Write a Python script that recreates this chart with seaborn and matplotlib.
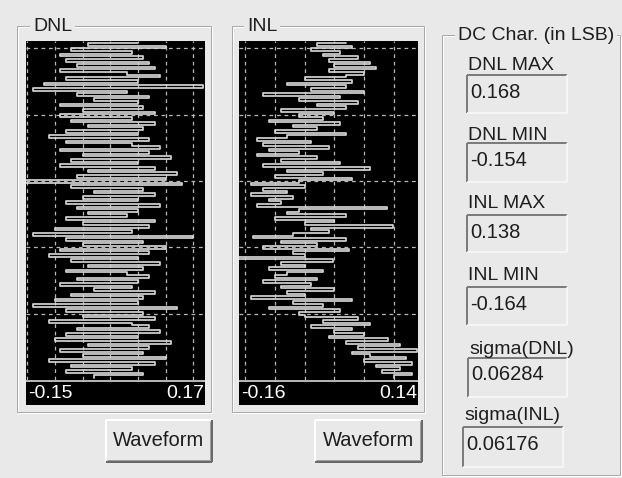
import matplotlib
matplotlib.use("Agg")
import matplotlib.pyplot as plt
import seaborn as sns
from matplotlib.patches import Rectangle

# ---------------- data ----------------
codes = list(range(128))
dnl = [0.05, -0.04, 0.10, -0.07, 0.04, -0.09, 0.06, -0.08, 0.07, -0.06,
       0.08, -0.09, 0.03, 0.09, -0.08, 0.05, -0.12, 0.168, -0.14, 0.03,
       -0.06, 0.07, -0.03, 0.05, -0.09, 0.06, -0.05, 0.08, -0.09, 0.04,
       -0.07, 0.08, -0.04, 0.06, -0.08, 0.05, -0.11, 0.07, -0.08, 0.04,
       0.09, -0.09, 0.07, -0.05, 0.11, -0.07, 0.05, -0.09, 0.08, -0.04,
       0.12, -0.06, 0.10, -0.154, 0.13, -0.07, 0.06, -0.03, 0.08, -0.05,
       0.05, -0.08, 0.09, -0.06, 0.05, -0.04, 0.03, -0.08, 0.08, -0.05,
       0.07, -0.10, 0.04, -0.14, 0.15, -0.08, 0.06, -0.05, 0.10, -0.09,
       0.07, -0.11, 0.05, -0.07, 0.09, -0.04, 0.06, -0.08, 0.03, 0.07,
       -0.06, 0.05, -0.09, 0.04, -0.03, 0.08, -0.07, 0.06, -0.10, 0.05,
       -0.14, 0.12, -0.08, 0.06, -0.05, 0.08, -0.11, 0.04, 0.07, -0.06,
       0.09, -0.08, 0.05, -0.10, 0.11, -0.04, 0.07, -0.09, 0.06, -0.05,
       0.10, -0.11, 0.08, -0.07, 0.04, -0.08, 0.06, -0.03]
inl = [0.02, -0.03, 0.03, -0.04, 0.01, -0.02, 0.04, -0.01,
       0.06, 0.00, 0.07, -0.01, 0.05, 0.02,
       -0.05, 0.03, -0.08, 0.02, -0.04, 0.05, -0.12, 0.01, -0.06, 0.04, -0.03, 0.02,
       -0.09, 0.00, -0.06, -0.02, -0.11, 0.01, -0.07, -0.03, -0.10, 0.02, -0.08,
       -0.13, -0.04, -0.12, -0.01, -0.11, -0.06, -0.13, -0.03,
       -0.09, 0.01, -0.12, 0.06, -0.08, -0.02, -0.10, 0.03, -0.06,
       -0.14, -0.05, -0.12, -0.08, -0.14, -0.07, -0.11, -0.09, -0.13, 0.088, -0.06,
       -0.08, 0.02, -0.10, 0.00, -0.05, 0.098, -0.04, -0.01, -0.07,
       -0.136, 0.02, -0.09, -0.03, -0.12, 0.025, -0.07, -0.05,
       -0.164, -0.003, -0.09, -0.05, -0.11, -0.02, -0.08,
       -0.10, -0.03, -0.12, -0.04, -0.09, 0.00, -0.08, -0.05,
       -0.14, 0.03, -0.07, -0.02, -0.11, 0.01, -0.06,
       -0.05, 0.04, -0.02, 0.06, -0.04, 0.03, 0.00, 0.05,
       -0.01, 0.09, 0.02, 0.11, 0.04, 0.138, 0.03,
       0.06, 0.12, 0.05, 0.13, 0.07, 0.11, 0.08, 0.13, 0.10]
dnl_range = [-0.152, 0.171]
inl_range = [-0.16, 0.14]
dnl_ticks = ["-0.15", "0.17"]
inl_ticks = ["-0.16", "0.14"]
grid_vals = [-0.15, -0.10, -0.05, 0.0, 0.05, 0.10, 0.15]
stat_labels = ["DNL MAX", "DNL MIN", "INL MAX", "INL MIN", "sigma(DNL)", "sigma(INL)"]
stat_values = ["0.168", "-0.154", "0.138", "-0.164", "0.06284", "0.06176"]

# ---------------- style ----------------
W, H = 622, 478
BG = "#e9e9e9"
TXT = "#1e1e1e"
sns.set_theme(style="white")
plt.rcParams["font.family"] = ["Liberation Sans", "DejaVu Sans"]

fig = plt.figure(figsize=(W / 100, H / 100), dpi=100, facecolor=BG)
ov = fig.add_axes([0, 0, 1, 1], zorder=0)
ov.set_xlim(0, W)
ov.set_ylim(H, 0)
ov.axis("off")
PX = 0.72  # one pixel in points


def frac(l, t, r, b):
    return [l / W, 1 - b / H, (r - l) / W, (b - t) / H]


def seg(x0, y0, x1, y1, c, w=1):
    ov.plot([x0, x1], [y0, y1], color=c, lw=w * PX, solid_capstyle="butt")


def group_box(l, t, r, b, title, tx):
    for off, c in ((1, "#ffffff"), (0, "#a8a8a8")):
        seg(l + off, t + off, r + off, t + off, c)
        seg(l + off, b + off, r + off, b + off, c)
        seg(l + off, t + off, l + off, b + off, c)
        seg(r + off, t + off, r + off, b + off, c)
    ov.text(tx, t, title, ha="left", va="center", fontsize=14, color=TXT,
            bbox=dict(boxstyle="square,pad=0.15", fc=BG, ec="none"))


def button(l, t, r, b, label):
    ov.add_patch(Rectangle((l, t), r - l, b - t, fc=BG, ec="none"))
    seg(l, t, r, t, "#ffffff", 2)
    seg(l, t, l, b, "#ffffff", 2)
    seg(l, b, r, b, "#6a6a6a", 2)
    seg(r, t, r, b, "#6a6a6a", 2)
    seg(l + 1, b - 2, r - 2, b - 2, "#a0a0a0")
    seg(r - 2, t + 1, r - 2, b - 2, "#a0a0a0")
    ov.text((l + r) / 2, (t + b) / 2, label, ha="center", va="center",
            fontsize=14.5, color=TXT)


def edit_box(l, t, r, b, value):
    seg(l, t, r, t, "#7c7c7c", 2)
    seg(l, t, l, b, "#7c7c7c", 2)
    seg(l, b, r, b, "#fafafa", 1.5)
    seg(r, t, r, b, "#fafafa", 1.5)
    ov.text(l + 3, t + 17, value, ha="left", va="center", fontsize=14.5, color=TXT)


def plot_panel(vals, rng, ticks, l, t, r, b):
    ax = fig.add_axes(frac(l, t, r, b), zorder=2)
    ax.set_facecolor("black")
    for v in grid_vals:
        ax.axvline(v, color="#b8b8b8", lw=0.9, ls=(0, (3, 3)), zorder=0.5)
    for f in (0.195, 0.391, 0.587, 0.783, 0.979):
        ax.plot([0, 1], [f, f], transform=ax.transAxes, color="#b8b8b8",
                lw=0.9, ls=(0, (3, 3)), zorder=0.5)
    sns.lineplot(x=vals, y=codes, sort=False, estimator=None, color="#d4d4d4",
                 lw=1.25, drawstyle="steps-post", ax=ax, zorder=2)
    ax.set_xlim(*rng)
    ax.set_ylim(127.8, -0.8)
    ax.set_xticks([])
    ax.set_yticks([])
    ax.set_xlabel("")
    ax.set_ylabel("")
    for s in ax.spines.values():
        s.set_visible(False)
    # value strip under the plot
    ov.add_patch(Rectangle((l, b), r - l, 25, fc="black", ec="none"))
    seg(l, b + 0.5, r, b + 0.5, "#f0f0f0", 1.5)
    ov.text(l + 2, b + 14, ticks[0], ha="left", va="center", fontsize=14, color="white")
    ov.text(r - 1, b + 14, ticks[1], ha="right", va="center", fontsize=14, color="white")


# ---------------- DNL panel ----------------
group_box(17, 26, 211, 412, "DNL", 33)
plot_panel(dnl, dnl_range, dnl_ticks, 26, 41, 205, 380)
button(106, 420, 212, 462, "Waveform")

# ---------------- INL panel ----------------
group_box(232, 26, 424, 412, "INL", 247)
plot_panel(inl, inl_range, inl_ticks, 239, 41, 418, 380)
button(315, 420, 422, 462, "Waveform")

# ---------------- DC characteristics ----------------
group_box(442, 35, 620, 475, "DC Char. (in LSB)", 458)
label_y = [65, 135, 204, 275, 350, 416]
box_tb = [(75, 113), (143, 182), (215, 252), (287, 325), (358, 397), (427, 467)]
box_lr = [(467, 567), (467, 567), (467, 567), (467, 567), (468, 567), (463, 563)]
for lab, val, ly, (bt, bb), (bl, br) in zip(stat_labels, stat_values, label_y, box_tb, box_lr):
    ov.text(bl + 1, ly, lab, ha="left", va="center", fontsize=14, color=TXT)
    edit_box(bl, bt, br, bb, val)

fig.savefig("out.png", dpi=100, facecolor=BG)
